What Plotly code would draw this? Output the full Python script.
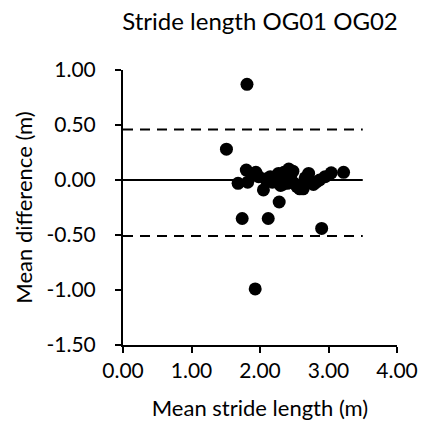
import plotly.graph_objects as go

# Bland-Altman data: mean stride length (m) vs mean difference (m)
mean_stride = [1.81, 1.51, 1.74, 2.12, 2.28, 2.90, 1.93,
               3.22, 3.04, 2.87, 2.71, 2.63, 2.54, 2.42, 2.27, 2.30,
               2.18, 2.08, 2.05, 1.94, 1.80, 1.68, 1.82, 1.88, 1.98,
               2.15, 2.22, 2.35, 2.38, 2.45, 2.50, 2.58, 2.60, 2.66,
               2.78, 2.82, 2.95, 2.12, 2.25, 2.33, 2.48, 2.40]
mean_diff = [0.87, 0.28, -0.35, -0.35, -0.20, -0.44, -0.99,
             0.07, 0.065, 0.00, 0.06, -0.08, -0.06, 0.10, 0.06, -0.05,
             -0.02, 0.01, -0.09, 0.07, 0.09, -0.03, -0.02, 0.05, 0.03,
             0.03, -0.01, 0.07, 0.00, 0.04, -0.03, -0.08, -0.05, 0.02,
             -0.04, -0.02, 0.03, 0.00, 0.02, -0.04, 0.08, -0.03]

bias = 0.0
upper_loa = 0.46
lower_loa = -0.51
line_x = [0.0, 3.5]

x_ticks = [0, 1, 2, 3, 4]
x_labels = ["0.00", "1.00", "2.00", "3.00", "4.00"]
y_ticks = [1.0, 0.5, 0.0, -0.5, -1.0, -1.5]
y_labels = ["1.00", "0.50", "0.00", "-0.50", "-1.00", "-1.50"]

FONT = "Lato"

fig = go.Figure()
fig.add_trace(go.Scatter(x=line_x, y=[upper_loa, upper_loa], mode="lines",
                         line=dict(color="black", width=2, dash="10px,7px"),
                         hoverinfo="skip", showlegend=False))
fig.add_trace(go.Scatter(x=line_x, y=[lower_loa, lower_loa], mode="lines",
                         line=dict(color="black", width=2, dash="10px,7px"),
                         hoverinfo="skip", showlegend=False))
fig.add_trace(go.Scatter(x=line_x, y=[bias, bias], mode="lines",
                         line=dict(color="black", width=2),
                         hoverinfo="skip", showlegend=False))
fig.add_trace(go.Scatter(x=mean_stride, y=mean_diff, mode="markers",
                         marker=dict(color="black", size=13),
                         showlegend=False))

fig.update_layout(
    width=430, height=434,
    margin=dict(l=123, r=28, t=70, b=89),
    paper_bgcolor="white", plot_bgcolor="white",
    font=dict(family=FONT, color="black", size=21),
    title=dict(text="Stride length OG01 OG02", x=0.5, xref="paper",
               y=1 - 22 / 434, yref="container", yanchor="middle",
               xanchor="center", font=dict(size=24, family=FONT, color="black")),
    xaxis=dict(range=[0, 4], tickvals=x_ticks, ticktext=x_labels,
               showgrid=False, zeroline=False, showline=True,
               linecolor="black", linewidth=2, ticks="outside",
               ticklen=6, tickwidth=2, tickcolor="black",
               tickfont=dict(size=21, family=FONT),
               title=dict(text="Mean stride length (m)", standoff=19,
                          font=dict(size=22, family=FONT))),
    yaxis=dict(range=[-1.5, 1.0], tickvals=y_ticks, ticktext=y_labels,
               showgrid=False, zeroline=False, showline=True,
               linecolor="black", linewidth=2, ticks="outside",
               ticklen=6, tickwidth=2, tickcolor="black",
               tickfont=dict(size=21, family=FONT),
               ticklabelstandoff=15,
               title=dict(text="Mean difference (m)", standoff=8,
                          font=dict(size=22, family=FONT))),
)

fig.write_html("out.html")
